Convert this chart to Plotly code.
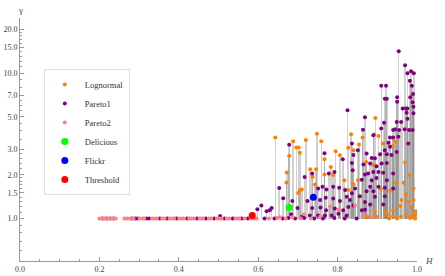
import plotly.graph_objects as go

# ---------------- data (H, gamma) ----------------
logn_H = [0.895, 0.892, 0.748, 0.834, 0.643, 0.688, 0.696, 0.702, 0.678, 0.672, 0.671, 0.701,
          0.720, 0.759, 0.705, 0.795, 0.806, 0.827, 0.840, 0.854, 0.783, 0.731, 0.746, 0.767,
          0.743, 0.817, 0.705, 0.840, 0.827, 0.851, 0.737, 0.767, 0.789, 0.710,
          0.863, 0.903, 0.915, 0.939, 0.945, 0.872, 0.890, 0.970, 0.981, 0.947, 0.966, 0.932,
          0.909, 0.991, 0.972, 0.961, 0.978, 0.991, 0.894, 0.922, 0.940, 0.873, 0.972, 0.982,
          0.991, 0.999, 0.995, 0.985, 0.993, 0.997, 0.960, 0.950, 0.930, 0.876, 0.900, 0.940,
          0.986, 0.958, 0.925]
logn_G = [4.90, 3.78, 3.82, 3.80, 3.61, 3.40, 3.08, 3.08, 2.70, 2.07, 1.77, 1.50,
          3.46, 3.40, 2.83, 2.90, 2.72, 3.06, 2.95, 3.23, 2.26, 2.18, 2.18, 2.01,
          1.71, 1.83, 1.57, 1.72, 1.57, 1.83, 1.93, 2.55, 1.99, 1.58,
          3.61, 3.69, 3.28, 3.15, 3.37, 2.45, 2.33, 2.43, 1.99, 1.76, 1.76, 1.55,
          1.60, 1.61, 1.47, 1.34, 1.30, 1.34, 1.11, 1.12, 1.14, 1.02, 1.07, 1.01,
          1.04, 1.08, 1.00, 1.02, 1.05, 1.12, 1.03, 1.00, 1.00, 1.03, 1.03, 1.03,
          1.20, 1.22, 1.06]

par1_H = [0.954, 0.970, 0.976, 0.985, 0.992, 0.982, 0.987, 0.910, 0.922, 0.919, 0.924, 0.950,
          0.950, 0.983, 0.990, 0.989, 0.964, 0.972, 0.976, 0.991, 0.974, 0.991, 0.869, 0.976,
          0.917, 0.949, 0.960, 0.910, 0.864, 0.940, 0.945, 0.955, 0.969, 0.980, 0.989, 0.825,
          0.678, 0.653, 0.663, 0.686, 0.608, 0.598, 0.634, 0.629, 0.621, 0.699, 0.683, 0.504,
          0.767, 0.813, 0.836, 0.840, 0.851, 0.836, 0.838, 0.717, 0.736, 0.792, 0.778, 0.789,
          0.804, 0.819, 0.823, 0.836, 0.844, 0.762, 0.751, 0.772, 0.770, 0.756, 0.789, 0.806,
          0.831, 0.724, 0.736, 0.757, 0.771, 0.793, 0.814, 0.827, 0.840, 0.785, 0.802, 0.823,
          0.710, 0.730, 0.751, 0.768,
          0.890, 0.932, 0.940, 0.953, 0.932, 0.928, 0.919, 0.949, 0.936, 0.924, 0.907, 0.978,
          0.873, 0.886, 0.894, 0.865, 0.882, 0.898, 0.911, 0.924, 0.890, 0.903, 0.869, 0.877,
          0.915, 0.861, 0.886, 0.898, 0.924, 0.940, 0.882, 0.903, 0.919, 0.940, 0.873, 0.890,
          0.856, 0.894, 0.919, 0.869, 0.882, 0.861, 0.869, 0.915,
          0.208, 0.218, 0.228, 0.236, 0.282, 0.290, 0.296, 0.318, 0.325, 0.352, 0.371, 0.394,
          0.421, 0.446, 0.468, 0.489, 0.515, 0.536, 0.558, 0.574, 0.616, 0.641, 0.662, 0.676,
          0.693, 0.716, 0.741, 0.763, 0.792, 0.818, 0.848]
par1_G = [14.1, 11.3, 9.95, 10.3, 9.95, 8.85, 8.18, 8.18, 8.18, 6.65, 6.65, 6.80,
          6.35, 6.80, 7.17, 6.29, 5.71, 5.71, 5.71, 5.87, 5.33, 5.28, 4.96, 4.85,
          4.55, 4.60, 4.60, 4.16, 4.07, 4.05, 4.10, 4.05, 4.10, 4.05, 4.05, 5.54,
          3.21, 1.62, 1.38, 1.32, 1.23, 1.16, 1.18, 1.14, 1.12, 1.18, 1.07, 1.04,
          2.81, 2.55, 2.41, 2.73, 2.95, 3.28, 2.15, 1.93, 2.04, 2.09, 2.04, 1.65,
          1.63, 1.57, 1.41, 1.49, 1.61, 1.65, 1.61, 1.58, 1.39, 1.34, 1.37, 1.32,
          1.34, 1.32, 1.18, 1.19, 1.14, 1.17, 1.14, 1.20, 1.23, 1.05, 1.08, 1.05,
          1.03, 1.05, 1.05, 1.05,
          3.74, 3.61, 3.61, 3.65, 3.11, 3.31, 2.95, 2.87, 2.73, 2.77, 2.77, 3.28,
          2.80, 2.61, 2.59, 2.35, 2.39, 2.29, 2.39, 2.41, 2.09, 2.09, 2.01, 2.04,
          2.06, 1.85, 1.83, 1.90, 1.83, 2.04, 1.65, 1.65, 1.63, 1.61, 1.54, 1.54,
          1.42, 1.41, 1.42, 1.30, 1.25, 1.14, 1.15, 1.25,
          1.00, 1.00, 1.00, 1.00, 1.00, 1.00, 1.00, 1.00, 1.00, 1.00, 1.00, 1.00,
          1.00, 1.00, 1.00, 1.00, 1.00, 1.00, 1.00, 1.00, 1.00, 1.00, 1.00, 1.01,
          1.00, 1.01, 1.00, 1.00, 1.01, 1.00, 1.00]

par2_H = [0.200, 0.206, 0.213, 0.221, 0.226, 0.233, 0.241, 0.263, 0.270, 0.277, 0.286, 0.301,
          0.309, 0.313, 0.333, 0.339, 0.345, 0.358, 0.364, 0.377, 0.383, 0.388, 0.401, 0.407,
          0.413, 0.426, 0.431, 0.438, 0.452, 0.457, 0.461, 0.476, 0.482, 0.496, 0.502, 0.508,
          0.521, 0.527, 0.543, 0.549, 0.553, 0.566, 0.581, 0.589, 0.596, 0.627, 0.648, 0.669,
          0.686, 0.715, 0.733, 0.781, 0.804, 0.802, 0.844, 0.866, 0.888, 0.707, 0.756, 0.655]
par2_G = [1.00, 1.00, 1.00, 1.00, 1.00, 1.00, 1.00, 1.00, 1.00, 1.00, 1.00, 1.00,
          1.00, 1.00, 1.00, 1.00, 1.00, 1.00, 1.00, 1.00, 1.00, 1.00, 1.00, 1.00,
          1.00, 1.00, 1.00, 1.00, 1.00, 1.00, 1.00, 1.00, 1.00, 1.00, 1.00, 1.00,
          1.00, 1.00, 1.00, 1.00, 1.00, 1.00, 1.00, 1.00, 1.00, 1.00, 1.01, 1.00,
          1.02, 1.07, 1.00, 1.21, 1.14, 1.15, 1.23, 1.04, 1.02, 1.00, 1.03, 1.02]

delicious_H, delicious_G = [0.678], [1.19]
flickr_H, flickr_G = [0.739], [1.40]
threshold_H, threshold_G = [0.585], [1.05]

x_ticks = [0.0, 0.2, 0.4, 0.6, 0.8, 1.0]
y_ticks = [1.0, 1.5, 2.0, 3.0, 5.0, 7.0, 10.0, 15.0, 20.0]
y_minor = [0.6, 0.7, 0.8, 0.9, 1.1, 1.2, 1.3, 1.4, 1.6, 1.7, 1.8, 1.9, 2.2, 2.4, 2.6, 2.8,
           3.5, 4.0, 4.5, 5.5, 6.0, 6.5, 8.0, 9.0, 11, 12, 13, 14, 16, 17, 18, 19]

FONT = "Liberation Serif, Times New Roman, serif"

fig = go.Figure()

# stems (filling to gamma = 1)
all_H = logn_H + par1_H + par2_H
all_G = logn_G + par1_G + par2_G
fig.add_trace(go.Bar(x=all_H, y=[g - 1 for g in all_G], base=1, width=0.0038,
                     marker=dict(color="rgba(135,135,135,0.38)", line=dict(width=0)),
                     showlegend=False, hoverinfo="skip"))

def pts(name, xs, ys, color, size):
    fig.add_trace(go.Scatter(x=xs, y=ys, mode="markers", name=name,
                             marker=dict(color=color, size=size, line=dict(width=0))))

pts("Lognormal", logn_H, logn_G, "#FF8000", 4)
pts("Pareto1", par1_H, par1_G, "#800080", 4)
pts("Pareto2", par2_H, par2_G, "#FF8080", 4)
pts("Delicious", delicious_H, delicious_G, "#00FF00", 7)
pts("Flickr", flickr_H, flickr_G, "#0000FF", 7)
pts("Threshold", threshold_H, threshold_G, "#FF0000", 7)

axis_common = dict(showgrid=False, zeroline=False, showline=True, linecolor="#999999",
                   linewidth=1, ticks="inside", tickcolor="#999999", automargin=False,
                   color="#444444",
                   tickfont=dict(family=FONT, size=8, color="#444444"))

fig.update_layout(
    width=445, height=276,
    margin=dict(l=20, r=28, t=18, b=15, autoexpand=False),
    paper_bgcolor="white", plot_bgcolor="white",
    barmode="overlay", bargap=0,
    font=dict(family=FONT, size=9, color="#333333"),
    xaxis=dict(range=[0, 1.0], tickvals=x_ticks, ticktext=[f"{v:.1f}" for v in x_ticks],
               ticklen=4, minor=dict(dtick=0.05, tick0=0, ticks="inside", ticklen=2,
                                     tickcolor="#999999"),
               **axis_common),
    yaxis=dict(type="log", range=[-0.292, 1.378], tickvals=y_ticks,
               ticktext=[f"{v:.1f}" for v in y_ticks], ticklen=4,
               minor=dict(tickvals=y_minor, ticks="inside", ticklen=2, tickcolor="#999999"),
               **axis_common),
    legend=dict(x=0.06, y=0.79, xanchor="left", yanchor="top",
                bgcolor="white", bordercolor="#dddddd", borderwidth=1,
                font=dict(family=FONT, size=8.5, color="#333333"),
                itemsizing="trace", tracegroupgap=0),
    annotations=[
        dict(text="γ", xref="paper", yref="paper", x=0, y=1.0, xanchor="center",
             yanchor="bottom", yshift=1, showarrow=False,
             font=dict(family=FONT, size=9, color="#444444")),
        dict(text="<i>H</i>", xref="paper", yref="paper", x=1.0, y=0, xanchor="left",
             yanchor="middle", xshift=6, showarrow=False,
             font=dict(family=FONT, size=9, color="#444444")),
    ],
)

fig.write_html("out.html", config={"displayModeBar": False},
               post_script="document.body.style.margin='0px';document.body.style.overflow='hidden';")
